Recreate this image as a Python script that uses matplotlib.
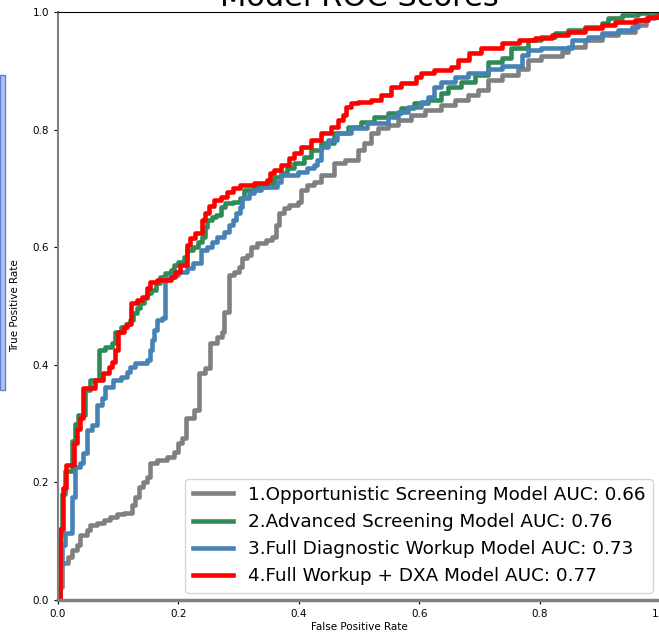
import matplotlib.pyplot as plt
from matplotlib.patches import Rectangle

# ROC corner points (fpr, tpr), drawn as post steps
fpr_1 = [0, 0.003, 0.006, 0.017, 0.023, 0.031, 0.037, 0.048, 0.053, 0.064, 0.076, 0.087, 0.098, 0.109,
         0.123, 0.128, 0.134, 0.142, 0.148, 0.153, 0.164, 0.181, 0.192, 0.2, 0.206, 0.212, 0.226, 0.234,
         0.245, 0.253, 0.264, 0.273, 0.276, 0.284, 0.292, 0.3, 0.306, 0.314, 0.32, 0.331, 0.345, 0.356,
         0.362, 0.367, 0.376, 0.384, 0.398, 0.403, 0.414, 0.426, 0.437, 0.459, 0.476, 0.498, 0.509, 0.52,
         0.531, 0.548, 0.564, 0.587, 0.609, 0.637, 0.659, 0.681, 0.698, 0.714, 0.737, 0.764, 0.781, 0.803,
         0.837, 0.848, 0.876, 0.903, 0.931, 0.959, 0.976, 0.992, 1.0]
tpr_1 = [0, 0.022, 0.063, 0.073, 0.085, 0.094, 0.11, 0.119, 0.128, 0.131, 0.136, 0.141, 0.146, 0.148,
         0.162, 0.175, 0.192, 0.2, 0.209, 0.233, 0.238, 0.243, 0.252, 0.267, 0.276, 0.31, 0.323, 0.386,
         0.395, 0.437, 0.447, 0.456, 0.49, 0.553, 0.558, 0.566, 0.582, 0.587, 0.6, 0.607, 0.612, 0.617,
         0.638, 0.658, 0.667, 0.672, 0.677, 0.697, 0.706, 0.711, 0.723, 0.743, 0.748, 0.765, 0.777, 0.794,
         0.802, 0.808, 0.816, 0.825, 0.833, 0.842, 0.85, 0.859, 0.867, 0.884, 0.893, 0.903, 0.918, 0.925,
         0.932, 0.94, 0.952, 0.961, 0.966, 0.978, 0.99, 0.995, 1.0]

fpr_2 = [0, 0.004, 0.006, 0.012, 0.023, 0.028, 0.034, 0.045, 0.053, 0.068, 0.078, 0.09, 0.095, 0.105,
         0.113, 0.12, 0.125, 0.131, 0.137, 0.143, 0.148, 0.155, 0.162, 0.17, 0.178, 0.187, 0.192, 0.2,
         0.209, 0.214, 0.225, 0.233, 0.24, 0.245, 0.248, 0.256, 0.262, 0.27, 0.278, 0.29, 0.303, 0.309,
         0.325, 0.348, 0.359, 0.37, 0.381, 0.392, 0.408, 0.42, 0.437, 0.459, 0.481, 0.503, 0.525, 0.548,
         0.57, 0.592, 0.614, 0.637, 0.648, 0.67, 0.692, 0.714, 0.737, 0.753, 0.781, 0.803, 0.825, 0.848,
         0.875, 0.903, 0.914, 0.937, 0.964, 0.98, 1.0]
tpr_2 = [0, 0.11, 0.18, 0.22, 0.27, 0.3, 0.315, 0.357, 0.374, 0.425, 0.43, 0.437, 0.456, 0.465,
         0.47, 0.476, 0.488, 0.497, 0.505, 0.513, 0.522, 0.527, 0.539, 0.549, 0.556, 0.561, 0.57, 0.575,
         0.583, 0.595, 0.6, 0.609, 0.617, 0.634, 0.646, 0.651, 0.655, 0.668, 0.675, 0.677, 0.684, 0.697,
         0.702, 0.709, 0.719, 0.726, 0.735, 0.743, 0.753, 0.765, 0.777, 0.794, 0.805, 0.813, 0.821, 0.828,
         0.837, 0.845, 0.85, 0.862, 0.873, 0.881, 0.893, 0.915, 0.922, 0.939, 0.952, 0.958, 0.964, 0.969,
         0.974, 0.981, 0.99, 0.995, 0.998, 1.0, 1.0]

fpr_3 = [0, 0.003, 0.006, 0.012, 0.023, 0.028, 0.037, 0.042, 0.048, 0.056, 0.064, 0.073, 0.078, 0.092,
         0.105, 0.114, 0.12, 0.128, 0.148, 0.153, 0.156, 0.159, 0.164, 0.173, 0.178, 0.19, 0.2, 0.214,
         0.225, 0.237, 0.248, 0.256, 0.264, 0.275, 0.284, 0.29, 0.295, 0.303, 0.306, 0.317, 0.325, 0.337,
         0.364, 0.37, 0.398, 0.414, 0.425, 0.431, 0.437, 0.448, 0.464, 0.487, 0.514, 0.548, 0.564, 0.581,
         0.603, 0.614, 0.625, 0.637, 0.659, 0.681, 0.714, 0.737, 0.77, 0.781, 0.803, 0.853, 0.881, 0.903,
         0.931, 0.953, 0.964, 0.98, 1.0]
tpr_3 = [0, 0.06, 0.094, 0.114, 0.175, 0.226, 0.233, 0.25, 0.289, 0.298, 0.332, 0.344, 0.362, 0.374,
         0.38, 0.388, 0.396, 0.403, 0.408, 0.425, 0.442, 0.46, 0.476, 0.48, 0.548, 0.553, 0.558, 0.565,
         0.573, 0.595, 0.6, 0.609, 0.617, 0.626, 0.638, 0.646, 0.658, 0.668, 0.684, 0.692, 0.697, 0.702,
         0.711, 0.723, 0.728, 0.735, 0.74, 0.748, 0.77, 0.782, 0.794, 0.802, 0.811, 0.821, 0.83, 0.838,
         0.847, 0.855, 0.873, 0.881, 0.89, 0.896, 0.903, 0.908, 0.927, 0.935, 0.939, 0.952, 0.958, 0.964,
         0.969, 0.974, 0.986, 0.991, 1.0]

fpr_4 = [0, 0.003, 0.009, 0.014, 0.026, 0.031, 0.037, 0.041, 0.062, 0.075, 0.084, 0.09, 0.095, 0.1,
         0.109, 0.115, 0.121, 0.131, 0.14, 0.148, 0.153, 0.164, 0.187, 0.195, 0.203, 0.214, 0.215, 0.22,
         0.228, 0.24, 0.245, 0.25, 0.259, 0.27, 0.281, 0.29, 0.303, 0.325, 0.348, 0.352, 0.359, 0.37,
         0.384, 0.392, 0.403, 0.42, 0.437, 0.453, 0.465, 0.473, 0.478, 0.487, 0.498, 0.52, 0.537, 0.553,
         0.57, 0.595, 0.603, 0.625, 0.653, 0.665, 0.682, 0.703, 0.737, 0.765, 0.792, 0.82, 0.848, 0.875,
         0.903, 0.925, 0.958, 0.98, 1.0]
tpr_4 = [0, 0.12, 0.19, 0.23, 0.267, 0.29, 0.31, 0.36, 0.374, 0.386, 0.396, 0.405, 0.425, 0.456,
         0.465, 0.47, 0.505, 0.51, 0.515, 0.53, 0.54, 0.545, 0.55, 0.558, 0.57, 0.578, 0.604, 0.615,
         0.624, 0.646, 0.658, 0.67, 0.68, 0.685, 0.694, 0.7, 0.705, 0.709, 0.714, 0.726, 0.731, 0.74,
         0.752, 0.76, 0.77, 0.782, 0.794, 0.805, 0.816, 0.825, 0.838, 0.845, 0.847, 0.85, 0.859, 0.873,
         0.879, 0.89, 0.896, 0.901, 0.907, 0.918, 0.93, 0.939, 0.947, 0.952, 0.956, 0.961, 0.966, 0.973,
         0.978, 0.983, 0.986, 0.991, 1.0]

labels = ['1.Opportunistic Screening Model AUC: 0.66',
          '2.Advanced Screening Model AUC: 0.76',
          '3.Full Diagnostic Workup Model AUC: 0.73',
          '4.Full Workup + DXA Model AUC: 0.77']
colors = ['grey', 'seagreen', 'steelblue', 'red']

fig = plt.figure(figsize=(6.59, 6.36), dpi=100)
ax = fig.add_axes([58 / 659, 36 / 636, 602 / 659, 588 / 636])

curves = [(fpr_1, tpr_1), (fpr_2, tpr_2), (fpr_3, tpr_3), (fpr_4, tpr_4)]
for (f, t), lab, c in zip(curves, labels, colors):
    ax.step(f, t, where='post', color=c, lw=3.3, label=lab)

ax.set_xlim(0, 1)
ax.set_ylim(0, 1)
fontsize = 7.5
ax.set_xlabel('False Positive Rate', fontsize=fontsize, labelpad=2)
ax.set_ylabel('True Positive Rate', fontsize=fontsize, labelpad=9)
ax.tick_params(labelsize=fontsize, length=3)
ax.set_title('Model ROC Scores', fontsize=22, pad=4)
ax.spines['left'].set_color('#808080')
ax.spines['left'].set_linewidth(1.5)
ax.spines['bottom'].set_color('#808080')
ax.spines['bottom'].set_linewidth(2.5)
ax.legend(loc='lower right', fontsize=13.2, handlelength=2.2, labelspacing=0.5,
          borderaxespad=0.4)

# stray UI box at the left edge of the screenshot
fig.patches.append(Rectangle((0, 246 / 636), 4.5 / 659, 315 / 636, transform=fig.transFigure,
                             facecolor='#b3c2ec', edgecolor='#5f7fcf', lw=1))

plt.savefig('out.png', dpi=100)
